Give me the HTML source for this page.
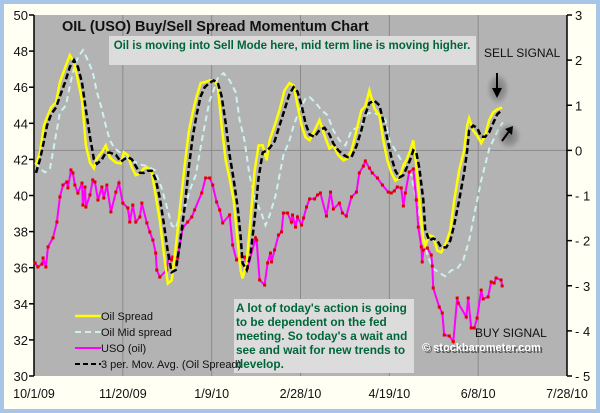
<!DOCTYPE html>
<html><head><meta charset="utf-8"><style>
body{margin:0;background:#a7c5e6;}
svg{display:block;font-family:"Liberation Sans",Arial,sans-serif;}
</style></head><body>
<svg id="chart" width="600" height="413" viewBox="0 0 600 413">
<rect x="0" y="0" width="600" height="413" fill="#a7c5e6"/>
<rect x="4" y="4" width="592" height="405" fill="#fffff4"/>
<rect x="34" y="15" width="533" height="361" fill="#b3b3b3"/>
<g id="grid"></g>
<g id="axes"></g>
<g id="series"></g>
<text x="62" y="31" font-size="14.5" font-weight="bold" fill="#111">OIL (USO) Buy/Sell Spread Momentum Chart</text>
<rect x="109" y="36" width="367" height="29" fill="#dcdcdc"/>
<text x="292" y="49" font-size="11.5" font-weight="bold" fill="#00663a" text-anchor="middle">Oil is moving into Sell Mode here, mid term line is moving higher.</text>
<text x="484" y="57" font-size="12" fill="#111">SELL SIGNAL</text>
<defs><radialGradient id="blob"><stop offset="0" stop-color="#777"/><stop offset="0.6" stop-color="#999"/><stop offset="1" stop-color="#b3b3b3" stop-opacity="0"/></radialGradient></defs>
<ellipse cx="498" cy="89" rx="13" ry="18" fill="url(#blob)"/>
<line x1="497" y1="73" x2="497" y2="93" stroke="#000" stroke-width="2"/>
<polygon points="492,88 502,88 497,98" fill="#000"/>
<ellipse cx="509" cy="136" rx="14" ry="15" fill="url(#blob)"/>
<line x1="502" y1="141" x2="510" y2="130" stroke="#000" stroke-width="2"/>
<polygon points="505,129 513,126 512,135" fill="#000"/>
<rect x="234" y="299" width="180" height="74" fill="#dcdcdc"/>
<g font-size="11.8" font-weight="bold" fill="#00663a">
<text x="236" y="312">A lot of today's action is going</text>
<text x="236" y="326">to be dependent on the fed</text>
<text x="236" y="340">meeting.  So today's a wait and</text>
<text x="236" y="354">see and wait for new trends to</text>
<text x="236" y="368">develop.</text>
</g>
<text x="475" y="337" font-size="12" fill="#111">BUY SIGNAL</text>
<text x="424" y="353" font-size="11" font-weight="bold" fill="#555">© stockbarometer.com</text>
<text x="422" y="351" font-size="11" font-weight="bold" fill="#fff">© stockbarometer.com</text>
<g id="legend" font-size="11" fill="#111">
<line x1="75" y1="316" x2="101" y2="316" stroke="#ffff00" stroke-width="2.5"/>
<text x="101" y="320">Oil Spread</text>
<line x1="75" y1="332" x2="101" y2="332" stroke="#ccf2f0" stroke-width="2" stroke-dasharray="6,4"/>
<text x="101" y="336">Oil Mid spread</text>
<line x1="75" y1="348" x2="101" y2="348" stroke="#ff00ff" stroke-width="2"/>
<text x="101" y="352">USO (oil)</text>
<line x1="75" y1="364" x2="101" y2="364" stroke="#000" stroke-width="2" stroke-dasharray="5,3"/>
<text x="101" y="368">3 per. Mov. Avg. (Oil Spread)</text>
</g>
</svg>
<script>
const xTickLabels=["10/1/09","11/20/09","1/9/10","2/28/10","4/19/10","6/8/10","7/28/10"];
const leftTicks=[30,32,34,36,38,40,42,44,46,48,50];
const rightTicks=[-5,-4,-3,-2,-1,0,1,2,3];
const spreadDays=[1.1,3.4,5.6,7.3,9.6,12.4,14.6,17.4,20.2,22.5,24.7,27,29.2,31.5,33.7,35.4,38.2,40.4,42.7,46.1,48.9,50.6,52.8,55.1,57.3,59.6,61.8,64,66.3,68.5,70.8,73,75.3,77.5,79.8,82,84.8,87.1,89.3,91.6,93.8,96.1,98.9,101.1,103.4,105.6,107.9,110.1,112.4,114.6,116.3,117.4,119.7,121.9,124.2,126.4,128.7,130.9,132.6,135.4,138.2,141,143.8,146.1,148.3,150.6,152.8,155.1,157.9,160.7,163.5,166.3,168.5,171.3,174.2,176.4,178.7,181.5,184.3,186.5,188.8,191.6,194.4,196.6,198.9,201.1,203.4,205.6,207.9,209.6,211.8,213.5,215.2,216.9,219.1,220.2,222.5,224.7,227,229.2,232,234.3,236.5,239.3,242.1,243.8,244.9,247.2,249.4,251.7,253.9,256.2,258.4,260.7,263.5];
const spreadValues=[-0.33,-0.04,0.55,0.73,0.95,1.06,1.51,1.82,2.11,1.95,1.55,1.11,0.11,-0.27,-0.4,-0.18,-0.04,0.11,-0.16,-0.27,-0.29,-0.04,-0.11,-0.38,-0.55,-0.51,-0.4,-0.38,-0.49,-1.0,-1.55,-2.26,-2.95,-2.88,-2.15,-1.33,-0.33,0.4,0.84,1.2,1.49,1.51,1.55,1.55,1.44,0.55,-0.22,-0.62,-1.11,-2.0,-2.66,-2.84,-2.48,-1.51,-0.44,0.11,0.11,-0.22,0.22,0.55,0.89,1.33,1.49,1.44,1.0,0.55,0.29,0.22,0.44,0.67,0.33,0.04,0.11,-0.11,-0.22,-0.18,0,0.44,0.89,0.98,1.33,0.93,0.78,0.22,-0.22,-0.49,-0.67,-0.62,-0.33,-0.22,0,0.22,-0.33,-1.11,-2.0,-2.11,-1.88,-1.91,-2.22,-2.26,-2.04,-1.77,-1.11,-0.44,0,0.55,0.71,0.44,0.33,0.16,0.33,0.67,0.84,0.91,0.95];
const maValues=[-0.5,-0.2,0.2,0.55,0.8,0.95,1.2,1.5,1.85,2.0,1.85,1.5,0.9,0.3,-0.2,-0.3,-0.2,-0.05,-0.05,-0.1,-0.25,-0.2,-0.15,-0.2,-0.35,-0.5,-0.5,-0.45,-0.45,-0.65,-1.05,-1.6,-2.25,-2.7,-2.65,-2.1,-1.25,-0.4,0.3,0.8,1.2,1.4,1.5,1.55,1.5,1.2,0.6,-0.1,-0.65,-1.25,-1.9,-2.5,-2.65,-2.3,-1.5,-0.6,-0.05,0.0,0.05,0.2,0.55,0.9,1.25,1.4,1.3,1.0,0.6,0.35,0.3,0.45,0.5,0.35,0.15,0.0,-0.1,-0.15,-0.15,0.1,0.45,0.8,1.05,1.1,1.0,0.65,0.25,-0.15,-0.45,-0.6,-0.55,-0.4,-0.2,0.0,-0.05,-0.4,-1.1,-1.75,-2.0,-1.95,-2.0,-2.15,-2.15,-2.0,-1.65,-1.1,-0.5,0.0,0.45,0.55,0.5,0.3,0.3,0.4,0.6,0.8,0.9];
const midDays=[0.6,3.4,6.2,9,11.8,14.6,18,20.2,22.5,24.7,27.5,30.3,33.1,35.4,37.6,40.4,42.7,45.5,48.3,51.7,55.1,59.6,64,68,71.9,75.3,77.5,79.8,82,85.4,87.6,91,93.3,95.5,98.9,101.1,103.4,106.7,110.1,113.5,115.7,118.5,121.3,124.7,128.1,130.3,132.6,136,138.2,140.4,143.8,146.1,149.4,152.8,155.1,158.4,161.8,165.2,168.5,171.9,175.3,178.7,184.3,187.6,191,194.4,197.8,200,203.4,206.7,209,212.4,214.6,218,221.4,224.7,228.1,231.5,234.8,238.2,241.6,244.9,248.3,251.7,253.9,256.2,258.4,261.8,264];
const midValues=[-0.27,-0.4,-0.49,-0.4,0.22,0.84,1.0,1.44,1.82,2.06,2.22,2.0,1.73,1.29,1.0,0.55,0.22,0.04,-0.04,-0.18,-0.22,-0.31,-0.35,-0.44,-0.84,-1.33,-1.66,-1.73,-1.44,-1.22,-0.89,-0.55,-0.04,0.44,1.11,1.33,1.6,1.71,1.55,1.29,0.67,0.22,-0.55,-1.11,-1.4,-1.66,-1.44,-1.0,-0.55,-0.11,0.22,0.55,0.89,1.15,1.18,1.06,0.89,0.78,0.44,0.22,0.11,0.44,0.55,0.82,0.84,0.78,0.67,0.22,0,-0.22,-0.33,-0.55,-1.0,-1.66,-2.33,-2.62,-2.71,-2.79,-2.66,-2.62,-2.44,-2.0,-1.33,-0.67,-0.33,0.04,0.22,0.49,0.62];
const usoDays=[0.6,2.2,4.5,5.1,6.7,7.9,10.7,12.9,14.6,16.3,18.5,19.1,20.8,21.9,23,24.7,27,27.5,28.7,29.2,31.5,33.1,34.3,36,38.2,39.3,41,43.3,46.1,47.8,50,52.8,53.9,55.6,57.3,59.6,60.7,63.5,65.2,66.9,68.5,69.1,70.8,74.7,75.8,77.5,78.1,80.3,80.9,83.7,86.5,88.8,90.4,94.4,96.6,98.9,100.6,102.8,104.5,106.2,110.1,111.8,114,115.7,118.5,120.2,124.7,125.3,127,129.8,131.5,133.1,133.7,135.4,137.6,139.3,140.4,142.7,144.9,145.5,147.2,148.3,150.6,151.7,153.4,155.1,157.9,159.6,161.2,164.6,166.9,168.5,171.9,173.6,175.8,178.7,181.5,183.1,185.4,186.5,188.8,190.4,193.3,196.1,199.4,201.1,202.8,204.5,206.7,207.9,209,211.2,213.5,215.2,216.3,218,218.5,219.1,221.4,223.6,224.2,224.7,228.1,229.8,230.9,233.7,236,238.2,238.8,243.3,244.4,246.1,247.8,249.4,251.7,252.8,255.6,257.3,259,260.1,262.9,263.5];
const usoValues=[36.26,36.04,36.2,36.54,36.04,37.15,37.65,38.53,39.92,40.58,40.75,40.42,41.41,41.25,40.58,40.14,40.69,39.47,40.47,39.36,40.03,40.86,40.75,39.75,40.47,39.86,40.58,39.09,40.19,40.69,39.58,39.31,38.53,39.47,38.53,38.81,39.58,38.48,37.98,37.53,36.81,35.87,35.48,35.87,36.7,36.43,36.59,36.26,36.54,38.2,38.53,38.81,39.2,40.14,40.97,40.97,40.58,39.64,39.2,38.48,38.92,37.26,36.43,36.59,36.59,35.98,37.65,37.53,35.32,35.04,36.26,36.81,36.32,36.98,37.81,37.98,39.03,39.03,38.53,38.92,38.25,38.81,38.37,38.75,39.36,39.81,39.81,40.03,40.14,38.86,40.19,39.25,39.58,39.03,38.86,39.92,40.19,41.25,41.63,41.91,41.52,41.25,40.97,40.58,40.19,40.14,40.25,40.47,40.42,39.42,40.14,41.3,41.47,39.75,38.25,37.15,36.32,36.98,37.09,36.7,36.09,34.88,33.82,33.49,32.27,32.22,31.9,34.32,34.04,33.27,34.32,32.66,32.66,33.21,34.76,34.27,34.38,35.21,35.15,35.43,35.32,34.99];

const NS='http://www.w3.org/2000/svg';
const X0=34,X1=567,Y0=15,Y1=376;
function xScale(d){return X0+d*(X1-X0)/300;}
function yLeft(v){return Y0+(50-v)*(Y1-Y0)/20;}
function yRight(v){return Y0+(3-v)*(Y1-Y0)/8;}
function mk(tag,attrs,parent){const e=document.createElementNS(NS,tag);for(const k in attrs)e.setAttribute(k,attrs[k]);parent.appendChild(e);return e;}
const grid=document.getElementById('grid'),axes=document.getElementById('axes'),series=document.getElementById('series');

xTickLabels.forEach((lab,i)=>{
  const x=xScale(i*50);
  if(i>0&&i<xTickLabels.length-1){
    const g=mk('line',{x1:x,y1:Y0,x2:x,y2:Y1,stroke:'#8a8a8a','stroke-width':1},grid);
    
    
  }
  const t=mk('text',{x:x,y:398,'font-size':12.5,'text-anchor':'middle',fill:'#111'},axes);
  t.textContent=lab;
  
  
});
const zl=mk('line',{x1:X0,y1:yRight(0),x2:X1,y2:yRight(0),stroke:'#8a8a8a','stroke-width':1},grid);



const la=mk('line',{x1:X0,y1:Y0,x2:X0,y2:Y1,stroke:'#000','stroke-width':1.5},axes);


const ra=mk('line',{x1:X1,y1:Y0,x2:X1,y2:Y1,stroke:'#000','stroke-width':1.5},axes);


leftTicks.forEach(v=>{
  const y=yLeft(v);
  mk('line',{x1:X0-5,y1:y,x2:X0,y2:y,stroke:'#000','stroke-width':1.5},axes);
  const t=mk('text',{x:X0-6,y:y+5,'font-size':13,'text-anchor':'end',fill:'#111'},axes);
  t.textContent=v;
  
  
});
rightTicks.forEach(v=>{
  const y=yRight(v);
  mk('line',{x1:X1,y1:y,x2:X1+5,y2:y,stroke:'#000','stroke-width':1.5},axes);
  const t=mk('text',{x:X1+8,y:y+5,'font-size':13,fill:'#111'},axes);
  t.textContent=v<0?('- '+(-v)):String(v);
  
  
});

function pathFrom(days,vals,ys){return days.map((d,i)=>(i?'L':'M')+xScale(d).toFixed(1)+','+ys(vals[i]).toFixed(1)).join(' ');}

const mid=mk('path',{d:pathFrom(midDays,midValues,yRight),fill:'none',stroke:'#ccf2f0','stroke-width':2,'stroke-dasharray':'6,4'},series);


const uso=mk('path',{d:pathFrom(usoDays,usoValues,yLeft),fill:'none',stroke:'#ff00ff','stroke-width':2},series);


usoDays.forEach((d,i)=>{
  const m=mk('rect',{x:xScale(d)-1.5,y:yLeft(usoValues[i])-1.5,width:3,height:3,fill:'#e00000'},series);
  
  
});
const sp=mk('path',{d:pathFrom(spreadDays,spreadValues,yRight),fill:'none',stroke:'#ffff00','stroke-width':2.5},series);


const ma=mk('path',{d:pathFrom(spreadDays,maValues,yRight),fill:'none',stroke:'#000','stroke-width':2.5,'stroke-dasharray':'6,3'},series);


</script>
</body></html>
